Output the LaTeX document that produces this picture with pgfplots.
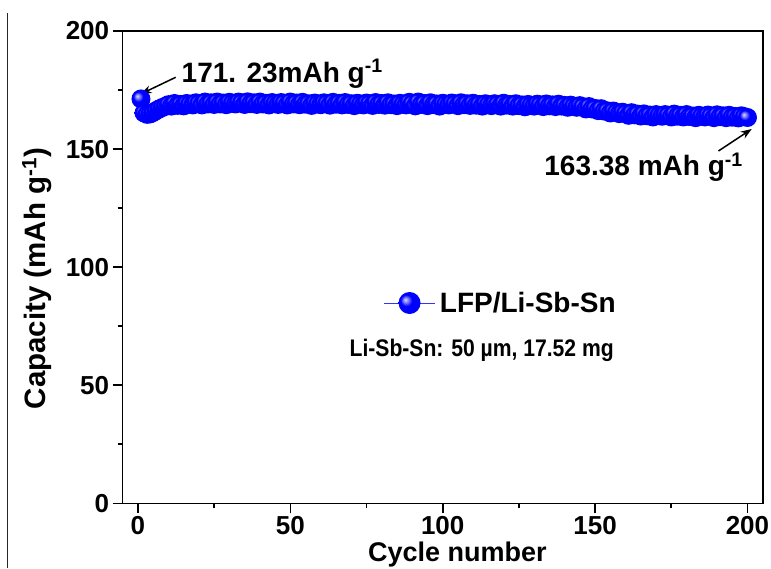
\documentclass[border=0pt]{standalone}
\usepackage{pgfplots}
\pgfplotsset{compat=1.18}
\usepackage{fontspec}
\setmainfont{Liberation Sans}
\usetikzlibrary{arrows.meta}
\pgfdeclareradialshading{myballshade}{\pgfpoint{-10bp}{8bp}}{%
  color(0bp)=(white!85!blue); color(5bp)=(white!55!blue); color(13bp)=(blue); color(40bp)=(blue); color(50bp)=(blue!88!black)}
\pgfdeclareplotmark{myball}{%
  \pgfpathcircle{\pgfpointorigin}{\pgfplotmarksize}%
  \pgfshadepath{myballshade}{0}%
  \pgfusepath{}}
\begin{document}
\begin{tikzpicture}
\begin{axis}[
  name=ax,
  scale only axis, width=640pt, height=472.3pt,
  xmin=-5, xmax=205, ymin=0, ymax=200,
  xtick={0,50,...,200}, ytick={0,50,...,200},
  minor x tick num=1, minor y tick num=1,
  tick align=outside, xtick pos=left, ytick pos=left,
  major tick length=10pt, minor tick length=5pt,
  axis line style={line width=1.6pt},
  every tick/.style={line width=1.6pt, black},
  tick label style={font=\fontsize{26}{30}\selectfont\bfseries},
  /pgf/number format/assume math mode=true,
  xlabel={Cycle number}, ylabel={Capacity (mAh g\textsuperscript{-1})},
  every axis x label/.style={at={(axis description cs:0.523,-0.124)}, anchor=base, font=\fontsize{27}{31}\selectfont\bfseries},
  every axis y label/.style={at={(axis description cs:-0.134,0.476)}, anchor=center, rotate=90, font=\fontsize{29.5}{33}\selectfont\bfseries},
  clip=false,
  legend style={draw=none, fill=none, inner sep=0pt, at={(axis description cs:0.4075,0.4241)}, anchor=west,
    nodes={inner xsep=4.5pt, inner ysep=0pt, font=\fontsize{28}{32}\selectfont\bfseries}},
  legend cell align=left,
  legend image code/.code={%
    \draw[blue!80!white, line width=0.7pt] (0pt,0pt) -- (51pt,0pt);
    \path plot[mark=myball, mark size=11pt] coordinates {(25.5pt,0pt)};
  },
]
\addplot[blue, line width=0.8pt, mark=myball, mark size=9.5pt] coordinates {
(1,171.23) (2,165.3) (3,164.7) (4,164.9) (5,165.5) (6,166.3) (7,167.0) (8,167.6) (9,168.1)
(10,168.8) (11,168.2) (12,169.3) (13,168.5) (14,168.9) (15,168.3) (16,169.3) (17,169.0) (18,168.7) (19,169.6)
(20,169.3) (21,168.7) (22,169.9) (23,169.1) (24,169.6) (25,168.9) (26,169.9) (27,169.1) (28,169.5) (29,168.8)
(30,169.8) (31,169.4) (32,169.1) (33,169.9) (34,169.6) (35,168.9) (36,170.0) (37,169.2) (38,169.6) (39,168.9)
(40,169.9) (41,169.1) (42,169.4) (43,168.7) (44,169.7) (45,169.3) (46,168.9) (47,169.7) (48,169.4) (49,168.7)
(50,169.9) (51,169.1) (52,169.5) (53,168.8) (54,169.8) (55,169.0) (56,169.2) (57,168.5) (58,169.5) (59,169.1)
(60,168.8) (61,169.6) (62,169.3) (63,168.6) (64,169.8) (65,169.0) (66,169.4) (67,168.7) (68,169.7) (69,168.9)
(70,169.2) (71,168.4) (72,169.4) (73,169.0) (74,168.7) (75,169.5) (76,169.2) (77,168.5) (78,169.7) (79,168.9)
(80,169.3) (81,168.6) (82,169.6) (83,168.8) (84,169.1) (85,168.4) (86,169.4) (87,169.0) (88,168.7) (89,169.8)
(90,169.2) (91,168.3) (92,169.9) (93,168.9) (94,169.3) (95,168.4) (96,169.6) (97,168.8) (98,169.1) (99,168.2)
(100,169.4) (101,169.0) (102,168.7) (103,169.5) (104,169.1) (105,168.4) (106,169.6) (107,168.8) (108,169.2) (109,168.5)
(110,169.4) (111,168.6) (112,168.9) (113,168.2) (114,169.2) (115,168.8) (116,168.4) (117,169.2) (118,168.9) (119,168.2)
(120,169.4) (121,168.6) (122,168.9) (123,168.2) (124,169.2) (125,168.4) (126,168.7) (127,167.9) (128,168.9) (129,168.5)
(130,168.2) (131,169.0) (132,168.7) (133,168.0) (134,169.1) (135,168.3) (136,168.7) (137,168.0) (138,169.0) (139,168.2)
(140,168.5) (141,167.7) (142,168.6) (143,168.1) (144,167.7) (145,168.4) (146,167.9) (147,167.0) (148,168.0) (149,167.0)
(150,167.2) (151,166.3) (152,167.1) (153,166.1) (154,166.2) (155,165.3) (156,166.1) (157,165.5) (158,165.0) (159,165.6)
(160,165.1) (161,164.3) (162,165.4) (163,164.5) (164,164.8) (165,164.0) (166,164.9) (167,164.1) (168,164.4) (169,163.6)
(170,164.6) (171,164.2) (172,163.9) (173,164.6) (174,164.3) (175,163.6) (176,164.8) (177,163.9) (178,164.3) (179,163.6)
(180,164.6) (181,163.8) (182,164.0) (183,163.3) (184,164.3) (185,163.9) (186,163.6) (187,164.4) (188,164.0) (189,163.3)
(190,164.5) (191,163.7) (192,164.1) (193,163.3) (194,164.3) (195,163.5) (196,163.8) (197,163.2) (198,164.1) (199,163.7)
(200,163.38)
};
\addlegendentry{LFP/Li-Sb-Sn}
\node[anchor=base west, inner sep=0pt, font=\fontsize{28}{32}\selectfont\bfseries] at (axis cs:14.3,178.4) {171. 23mAh g\textsuperscript{-1}};
\draw[-{Stealth[length=11pt,width=8pt]}, line width=1.5pt] (axis cs:12.4,180.4) -- (axis cs:0.9,173.3);
\node[anchor=base west, inner sep=0pt, font=\fontsize{28}{32}\selectfont\bfseries] at (axis cs:133.3,139.0) {163.38 mAh g\textsuperscript{-1}};
\draw[-{Stealth[length=11pt,width=8pt]}, line width=1.5pt] (axis cs:190.5,149.2) -- (axis cs:201.4,158.5);
\node[anchor=base west, inner sep=0pt, font=\fontsize{24}{28}\selectfont\bfseries] at (axis cs:69.4,62.0) {\scalebox{0.88}[1]{Li-Sb-Sn: 50 µm, 17.52 mg}};
\draw[line width=1.2pt, black!85] (axis cs:-42.7,207.6) -- (axis cs:-42.7,-27.4);
\end{axis}
\pgfresetboundingbox
\path (ax.south west) ++(-122.7pt,-64.7pt) rectangle ++(771pt,568pt);
\end{tikzpicture}
\end{document}
